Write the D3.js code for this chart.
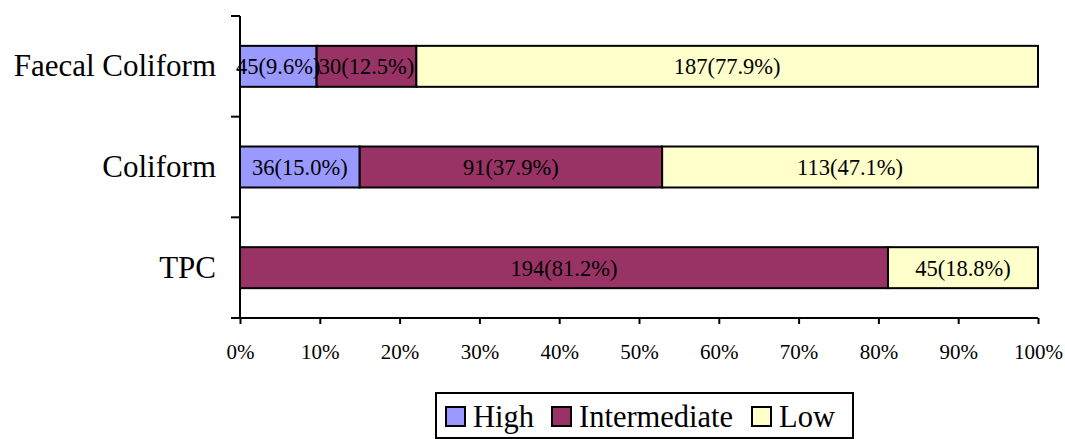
<!DOCTYPE html>
<html>
<head>
<meta charset="utf-8">
<script src="https://cdn.jsdelivr.net/npm/d3@7/dist/d3.min.js"></script>
<style>
  html, body { margin: 0; padding: 0; background: #fff; }
  svg { display: block; }
  svg text { font-family: "Liberation Serif", "Times New Roman", Times, serif; }
</style>
</head>
<body>
<svg id="chart" width="1065" height="439"></svg>
<script>
// Bacterial quality categories per indicator (percent of samples, with counts)
const categories = ["Faecal Coliform", "Coliform", "TPC"];
const seriesNames = ["High", "Intermediate", "Low"];
const highPct = [9.6, 15.0, 0];
const intermediatePct = [12.5, 37.9, 81.2];
const lowPct = [77.9, 47.1, 18.8];
const highCount = [45, 36, null];
const intermediateCount = [30, 91, 194];
const lowCount = [187, 113, 45];
const xTicks = [0, 10, 20, 30, 40, 50, 60, 70, 80, 90, 100];

const FONT = "'Liberation Serif', 'Times New Roman', Times, serif";
const colors = { High: "#9999ff", Intermediate: "#993366", Low: "#ffffcc" };

const rows = categories.map((c, i) => ({
  category: c,
  High: highPct[i], Intermediate: intermediatePct[i], Low: lowPct[i],
  counts: { High: highCount[i], Intermediate: intermediateCount[i], Low: lowCount[i] }
}));

const svg = d3.select("#chart");
const plot = { left: 240, right: 1038, top: 16, bottom: 318 };

const x = d3.scaleLinear().domain([0, 100]).range([plot.left, plot.right]);
const p = 0.593;
const y = d3.scaleBand().domain(categories).range([plot.top, plot.bottom])
  .paddingInner(p).paddingOuter(p / 2);

const stacked = d3.stack().keys(seriesNames)(rows);

// Bars
const layers = svg.append("g").selectAll("g").data(stacked).join("g")
  .attr("fill", d => colors[d.key]);
layers.selectAll("rect").data(d => d.map(s => ({ s, key: d.key })))
  .join("rect")
  .filter(d => d.s[1] - d.s[0] > 0)
  .attr("x", d => x(d.s[0]))
  .attr("y", d => y(d.s.data.category))
  .attr("width", d => x(d.s[1]) - x(d.s[0]))
  .attr("height", y.bandwidth())
  .attr("stroke", "#000")
  .attr("stroke-width", 2);

// Value labels
const labels = [];
stacked.forEach(layer => layer.forEach(s => {
  const v = s[1] - s[0];
  if (v > 0) labels.push({ s, key: layer.key, v });
}));
svg.append("g").selectAll("text").data(labels).join("text")
  .attr("x", d => (x(d.s[0]) + x(d.s[1])) / 2)
  .attr("y", d => y(d.s.data.category) + y.bandwidth() / 2 + 8)
  .attr("text-anchor", "middle")
  .attr("font-family", FONT)
  .attr("font-size", 22.5)
  .attr("fill", "#000")
  .text(d => `${d.s.data.counts[d.key]}(${d.v.toFixed(1)}%)`);

// X axis
const xAxis = svg.append("g").attr("transform", `translate(0,${plot.bottom})`)
  .call(d3.axisBottom(x).tickValues(xTicks).tickSize(6).tickSizeOuter(0).tickFormat(d => d + "%"));
xAxis.attr("font-family", FONT);
xAxis.select(".domain").attr("stroke-width", 2).attr("d", `M${plot.left - 9},0H${plot.right}`);
xAxis.selectAll(".tick line").attr("stroke-width", 2);
xAxis.selectAll(".tick text").attr("font-size", 21).attr("font-family", FONT)
  .attr("y", 41).attr("dy", 0).attr("fill", "#000");

// Y axis: ticks at category boundaries
const step = y.step();
const bounds = d3.range(categories.length + 1).map(i => plot.top + i * step);
const yAxis = svg.append("g");
yAxis.append("line").attr("x1", plot.left).attr("x2", plot.left)
  .attr("y1", plot.top).attr("y2", plot.bottom).attr("stroke", "#000").attr("stroke-width", 2);
yAxis.selectAll("line.tk").data(bounds).join("line").attr("class", "tk")
  .attr("x1", plot.left - 9).attr("x2", plot.left).attr("y1", d => d).attr("y2", d => d)
  .attr("stroke", "#000").attr("stroke-width", 2);
yAxis.selectAll("text").data(categories).join("text")
  .attr("x", 216)
  .attr("y", d => y(d) + y.bandwidth() / 2 + 10)
  .attr("text-anchor", "end")
  .attr("font-family", FONT)
  .attr("font-size", 31)
  .attr("fill", "#000")
  .text(d => d);

// Legend
const legend = svg.append("g");
legend.append("rect").attr("x", 436).attr("y", 393).attr("width", 417).attr("height", 45)
  .attr("fill", "#fff").attr("stroke", "#000").attr("stroke-width", 2);
const legendX = { High: 446, Intermediate: 552, Low: 752 };
const items = legend.selectAll("g.item").data(seriesNames).join("g").attr("class", "item")
  .attr("transform", d => `translate(${legendX[d]},0)`);
items.append("rect").attr("x", 0).attr("y", 407).attr("width", 19).attr("height", 19)
  .attr("fill", d => colors[d]).attr("stroke", "#000").attr("stroke-width", 2);
items.append("text").attr("x", 27).attr("y", 427)
  .attr("font-family", FONT).attr("font-size", 30.5).attr("fill", "#000")
  .text(d => d);
</script>
</body>
</html>
